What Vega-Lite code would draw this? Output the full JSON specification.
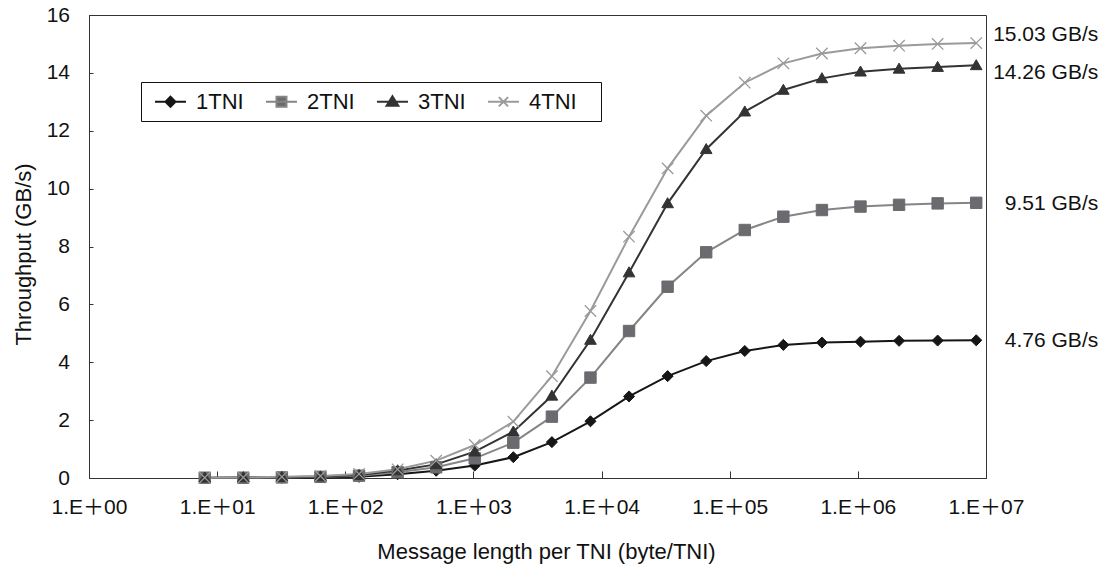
{
  "$schema": "https://vega.github.io/schema/vega-lite/v6.json",
  "width": 897,
  "height": 463,
  "autosize": {"type": "none"},
  "padding": {"left": 89, "top": 15, "right": 121, "bottom": 87},
  "background": "white",
  "config": {
    "view": {"stroke": "#333", "strokeWidth": 1},
    "font": "Liberation Sans, Noto Sans CJK JP",
    "axis": {
      "grid": false,
      "domainColor": "#333",
      "tickColor": "#333",
      "labelColor": "#111",
      "titleColor": "#111",
      "labelFont": "Liberation Sans, Noto Sans CJK JP",
      "titleFont": "Liberation Sans",
      "labelFontWeight": "normal",
      "titleFontWeight": "normal",
      "labelFontSize": 21,
      "titleFontSize": 22
    }
  },
  "datasets": {
    "main": [
      {"series": "1TNI", "len": 8, "gbps": 0.0},
      {"series": "1TNI", "len": 16, "gbps": 0.01},
      {"series": "1TNI", "len": 32, "gbps": 0.01},
      {"series": "1TNI", "len": 64, "gbps": 0.02},
      {"series": "1TNI", "len": 128, "gbps": 0.04},
      {"series": "1TNI", "len": 256, "gbps": 0.13},
      {"series": "1TNI", "len": 512, "gbps": 0.25},
      {"series": "1TNI", "len": 1024, "gbps": 0.43},
      {"series": "1TNI", "len": 2048, "gbps": 0.72},
      {"series": "1TNI", "len": 4096, "gbps": 1.24},
      {"series": "1TNI", "len": 8192, "gbps": 1.96},
      {"series": "1TNI", "len": 16384, "gbps": 2.82},
      {"series": "1TNI", "len": 32768, "gbps": 3.52},
      {"series": "1TNI", "len": 65536, "gbps": 4.04},
      {"series": "1TNI", "len": 131072, "gbps": 4.39},
      {"series": "1TNI", "len": 262144, "gbps": 4.6},
      {"series": "1TNI", "len": 524288, "gbps": 4.68},
      {"series": "1TNI", "len": 1048576, "gbps": 4.71},
      {"series": "1TNI", "len": 2097152, "gbps": 4.74},
      {"series": "1TNI", "len": 4194304, "gbps": 4.75},
      {"series": "1TNI", "len": 8388608, "gbps": 4.76},
      {"series": "2TNI", "len": 8, "gbps": 0.01},
      {"series": "2TNI", "len": 16, "gbps": 0.01},
      {"series": "2TNI", "len": 32, "gbps": 0.02},
      {"series": "2TNI", "len": 64, "gbps": 0.04},
      {"series": "2TNI", "len": 128, "gbps": 0.08},
      {"series": "2TNI", "len": 256, "gbps": 0.2},
      {"series": "2TNI", "len": 512, "gbps": 0.37},
      {"series": "2TNI", "len": 1024, "gbps": 0.68},
      {"series": "2TNI", "len": 2048, "gbps": 1.22},
      {"series": "2TNI", "len": 4096, "gbps": 2.12},
      {"series": "2TNI", "len": 8192, "gbps": 3.47},
      {"series": "2TNI", "len": 16384, "gbps": 5.08},
      {"series": "2TNI", "len": 32768, "gbps": 6.61},
      {"series": "2TNI", "len": 65536, "gbps": 7.8},
      {"series": "2TNI", "len": 131072, "gbps": 8.57},
      {"series": "2TNI", "len": 262144, "gbps": 9.03},
      {"series": "2TNI", "len": 524288, "gbps": 9.26},
      {"series": "2TNI", "len": 1048576, "gbps": 9.38},
      {"series": "2TNI", "len": 2097152, "gbps": 9.44},
      {"series": "2TNI", "len": 4194304, "gbps": 9.49},
      {"series": "2TNI", "len": 8388608, "gbps": 9.51},
      {"series": "3TNI", "len": 8, "gbps": 0.01},
      {"series": "3TNI", "len": 16, "gbps": 0.02},
      {"series": "3TNI", "len": 32, "gbps": 0.03},
      {"series": "3TNI", "len": 64, "gbps": 0.05},
      {"series": "3TNI", "len": 128, "gbps": 0.1},
      {"series": "3TNI", "len": 256, "gbps": 0.26},
      {"series": "3TNI", "len": 512, "gbps": 0.47},
      {"series": "3TNI", "len": 1024, "gbps": 0.91},
      {"series": "3TNI", "len": 2048, "gbps": 1.6},
      {"series": "3TNI", "len": 4096, "gbps": 2.84},
      {"series": "3TNI", "len": 8192, "gbps": 4.77},
      {"series": "3TNI", "len": 16384, "gbps": 7.1},
      {"series": "3TNI", "len": 32768, "gbps": 9.49},
      {"series": "3TNI", "len": 65536, "gbps": 11.36},
      {"series": "3TNI", "len": 131072, "gbps": 12.66},
      {"series": "3TNI", "len": 262144, "gbps": 13.41},
      {"series": "3TNI", "len": 524288, "gbps": 13.81},
      {"series": "3TNI", "len": 1048576, "gbps": 14.04},
      {"series": "3TNI", "len": 2097152, "gbps": 14.14},
      {"series": "3TNI", "len": 4194304, "gbps": 14.2},
      {"series": "3TNI", "len": 8388608, "gbps": 14.26},
      {"series": "4TNI", "len": 8, "gbps": 0.01},
      {"series": "4TNI", "len": 16, "gbps": 0.02},
      {"series": "4TNI", "len": 32, "gbps": 0.04},
      {"series": "4TNI", "len": 64, "gbps": 0.07},
      {"series": "4TNI", "len": 128, "gbps": 0.14},
      {"series": "4TNI", "len": 256, "gbps": 0.3},
      {"series": "4TNI", "len": 512, "gbps": 0.6},
      {"series": "4TNI", "len": 1024, "gbps": 1.14},
      {"series": "4TNI", "len": 2048, "gbps": 1.95},
      {"series": "4TNI", "len": 4096, "gbps": 3.52},
      {"series": "4TNI", "len": 8192, "gbps": 5.77},
      {"series": "4TNI", "len": 16384, "gbps": 8.34},
      {"series": "4TNI", "len": 32768, "gbps": 10.7},
      {"series": "4TNI", "len": 65536, "gbps": 12.52},
      {"series": "4TNI", "len": 131072, "gbps": 13.66},
      {"series": "4TNI", "len": 262144, "gbps": 14.33},
      {"series": "4TNI", "len": 524288, "gbps": 14.67},
      {"series": "4TNI", "len": 1048576, "gbps": 14.85},
      {"series": "4TNI", "len": 2097152, "gbps": 14.94},
      {"series": "4TNI", "len": 4194304, "gbps": 15.0},
      {"series": "4TNI", "len": 8388608, "gbps": 15.03}
    ],
    "ends": [
      {"series": "1TNI", "len": 8388608, "gbps": 4.76, "label": "4.76 GB/s"},
      {"series": "2TNI", "len": 8388608, "gbps": 9.51, "label": "9.51 GB/s"},
      {"series": "3TNI", "len": 8388608, "gbps": 14.26, "label": "14.26 GB/s"},
      {"series": "4TNI", "len": 8388608, "gbps": 15.03, "label": "15.03 GB/s"}
    ]
  },
  "layer": [
    {
      "data": {"name": "main"},
      "mark": {"type": "line", "strokeWidth": 2},
      "encoding": {
        "x": {
          "field": "len", "type": "quantitative",
          "scale": {"type": "log", "domain": [1, 10000000], "nice": false},
          "axis": {
            "values": [1, 10, 100, 1000, 10000, 100000, 1000000, 10000000],
            "labelExpr": "'1.E＋0' + round(log(datum.value) / LN10)",
            "tickSize": -7,
            "labelPadding": 25.5,
            "labelFlush": false,
            "labelOverlap": false,
            "title": "Message length per TNI (byte/TNI)",
            "titleX": 457,
            "titleY": 80,
            "titleAlign": "center",
            "titleBaseline": "alphabetic"
          }
        },
        "y": {
          "field": "gbps", "type": "quantitative",
          "scale": {"domain": [0, 16], "nice": false},
          "axis": {
            "values": [0, 2, 4, 6, 8, 10, 12, 14, 16],
            "tickSize": -4,
            "labelPadding": 23.5,
            "title": "Throughput (GB/s)",
            "titleAngle": -90,
            "titleX": -59,
            "titleY": 239,
            "titleAlign": "center",
            "titleBaseline": "alphabetic"
          }
        },
        "color": {
          "field": "series", "type": "nominal",
          "scale": {"domain": ["1TNI", "2TNI", "3TNI", "4TNI"], "range": ["#161616", "#858585", "#333333", "#9a9a9a"]},
          "legend": {
            "title": null,
            "orient": "none",
            "direction": "horizontal",
            "legendX": 52,
            "legendY": 67,
            "strokeColor": "#111",
            "fillColor": "white",
            "padding": 8,
            "labelFontSize": 22,
            "labelFont": "Liberation Sans",
            "labelColor": "#111",
            "labelOffset": 24,
            "labelExpr": "datum.label + '\u2800'",
            "columnPadding": -1,
            "symbolSize": 441,
            "symbolStrokeWidth": 2,
            "encode": {
              "symbols": {
                "update": {
                  "shape": {"signal": "datum.value === '1TNI' ? 'M-0.526,0L2.426,0M0.95,-0.476L1.426,0L0.95,0.476L0.474,0Z' : datum.value === '2TNI' ? 'M-0.526,0L2.426,0M0.474,-0.476L1.426,-0.476L1.426,0.476L0.474,0.476Z' : datum.value === '3TNI' ? 'M-0.526,0L2.426,0M0.95,-0.53L1.51,0.38L0.39,0.38Z' : 'M-0.526,0L2.426,0M0.51,-0.44L1.39,0.44M0.51,0.44L1.39,-0.44'"},
                  "fill": {"signal": "datum.value === '1TNI' ? '#161616' : datum.value === '2TNI' ? '#6b6b6f' : datum.value === '3TNI' ? '#333333' : 'transparent'"},
                  "stroke": {"signal": "datum.value === '1TNI' ? '#161616' : datum.value === '2TNI' ? '#858585' : datum.value === '3TNI' ? '#333333' : '#9a9a9a'"},
                  "strokeWidth": {"value": 2},
                  "size": {"value": 441},
                  "opacity": {"value": 1}
                }
              }
            }
          }
        }
      }
    },
    {
      "data": {"name": "main"},
      "transform": [{"filter": "datum.series === '1TNI'"}],
      "mark": {"type": "point", "shape": "M0,-0.92L0.92,0L0,0.92L-0.92,0Z", "filled": true, "fill": "#161616", "stroke": "#161616", "strokeWidth": 1, "opacity": 1, "size": 144},
      "encoding": {
        "x": {"field": "len", "type": "quantitative"},
        "y": {"field": "gbps", "type": "quantitative"}
      }
    },
    {
      "data": {"name": "main"},
      "transform": [{"filter": "datum.series === '2TNI'"}],
      "mark": {"type": "point", "shape": "M-0.95,-0.95L0.95,-0.95L0.95,0.95L-0.95,0.95Z", "filled": true, "fill": "#6b6b6f", "stroke": "#6b6b6f", "strokeWidth": 1, "opacity": 1, "size": 144},
      "encoding": {
        "x": {"field": "len", "type": "quantitative"},
        "y": {"field": "gbps", "type": "quantitative"}
      }
    },
    {
      "data": {"name": "main"},
      "transform": [{"filter": "datum.series === '3TNI'"}],
      "mark": {"type": "point", "shape": "M0,-0.95L0.97,0.72L-0.97,0.72Z", "filled": true, "fill": "#333333", "stroke": "#333333", "strokeWidth": 1, "opacity": 1, "size": 144},
      "encoding": {
        "x": {"field": "len", "type": "quantitative"},
        "y": {"field": "gbps", "type": "quantitative"}
      }
    },
    {
      "data": {"name": "main"},
      "transform": [{"filter": "datum.series === '4TNI'"}],
      "mark": {"type": "point", "shape": "M-0.95,-0.95L0.95,0.95M-0.95,0.95L0.95,-0.95", "filled": false, "stroke": "#9a9a9a", "strokeWidth": 1.3, "opacity": 1, "size": 144},
      "encoding": {
        "x": {"field": "len", "type": "quantitative"},
        "y": {"field": "gbps", "type": "quantitative"}
      }
    },
    {
      "data": {"name": "ends"},
      "transform": [{"filter": "datum.series === '4TNI'"}],
      "mark": {"type": "text", "align": "right", "baseline": "middle", "dx": 122, "dy": -8, "fontSize": 21, "font": "Liberation Sans", "color": "#111"},
      "encoding": {
        "x": {"field": "len", "type": "quantitative"},
        "y": {"field": "gbps", "type": "quantitative"},
        "text": {"field": "label"}
      }
    },
    {
      "data": {"name": "ends"},
      "transform": [{"filter": "datum.series === '3TNI'"}],
      "mark": {"type": "text", "align": "right", "baseline": "middle", "dx": 122, "dy": 8, "fontSize": 21, "font": "Liberation Sans", "color": "#111"},
      "encoding": {
        "x": {"field": "len", "type": "quantitative"},
        "y": {"field": "gbps", "type": "quantitative"},
        "text": {"field": "label"}
      }
    },
    {
      "data": {"name": "ends"},
      "transform": [{"filter": "datum.series === '1TNI' || datum.series === '2TNI'"}],
      "mark": {"type": "text", "align": "right", "baseline": "middle", "dx": 122, "dy": 1, "fontSize": 21, "font": "Liberation Sans", "color": "#111"},
      "encoding": {
        "x": {"field": "len", "type": "quantitative"},
        "y": {"field": "gbps", "type": "quantitative"},
        "text": {"field": "label"}
      }
    }
  ]
}
